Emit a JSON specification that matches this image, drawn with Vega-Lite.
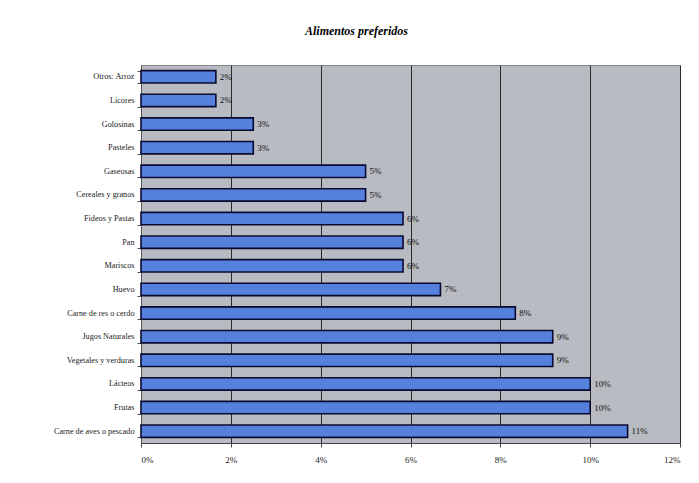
{
  "$schema": "https://vega.github.io/schema/vega-lite/v6.json",
  "autosize": "none",
  "width": 539,
  "height": 378,
  "padding": {"left": 141, "top": 65, "right": 19, "bottom": 40},
  "background": "white",
  "title": {
    "text": "Alimentos preferidos",
    "font": "Liberation Serif",
    "fontSize": 12,
    "fontStyle": "italic",
    "fontWeight": "bold",
    "color": "#000000",
    "anchor": "middle",
    "frame": "group",
    "dx": -54,
    "offset": 22
  },
  "data": {
    "values": [
      {"alimento": "Otros: Arroz", "valor": 0.016667},
      {"alimento": "Licores", "valor": 0.016667},
      {"alimento": "Golosinas", "valor": 0.025},
      {"alimento": "Pasteles", "valor": 0.025},
      {"alimento": "Gaseosas", "valor": 0.05},
      {"alimento": "Cereales y granos", "valor": 0.05},
      {"alimento": "Fideos y Pastas", "valor": 0.058333},
      {"alimento": "Pan", "valor": 0.058333},
      {"alimento": "Mariscos", "valor": 0.058333},
      {"alimento": "Huevo", "valor": 0.066667},
      {"alimento": "Carne de res o cerdo", "valor": 0.083333},
      {"alimento": "Jugos Naturales", "valor": 0.091667},
      {"alimento": "Vegetales y verduras", "valor": 0.091667},
      {"alimento": "Lácteos", "valor": 0.1},
      {"alimento": "Frutas", "valor": 0.1},
      {"alimento": "Carne de aves o pescado", "valor": 0.108333}
    ]
  },
  "encoding": {
    "y": {
      "field": "alimento",
      "type": "nominal",
      "sort": null,
      "title": null,
      "scale": {"paddingInner": 0.48, "paddingOuter": 0.24},
      "axis": {
        "labelFont": "Liberation Serif",
        "labelFontSize": 8.2,
        "labelFontWeight": "normal",
        "labelColor": "#1a1a1a",
        "tickBand": "extent",
        "tickColor": "#555555",
        "tickSize": 4,
        "labelPadding": 3,
        "domainColor": "#555555",
        "grid": false
      }
    },
    "x": {
      "field": "valor",
      "type": "quantitative",
      "title": null,
      "scale": {"domain": [0, 0.12], "nice": false},
      "axis": {
        "format": ".0%",
        "values": [0, 0.02, 0.04, 0.06, 0.08, 0.1, 0.12],
        "labelFont": "Liberation Serif",
        "labelFontSize": 9,
        "labelFontWeight": "normal",
        "labelColor": "#1a1a1a",
        "labelPadding": 8,
        "tickColor": "#444444",
        "tickSize": 4,
        "domainColor": "#444444",
        "grid": true,
        "gridColor": "#2a2a2a",
        "gridWidth": 1,
        "gridOpacity": 1
      }
    }
  },
  "layer": [
    {
      "mark": {"type": "bar", "color": "#5580dc", "stroke": "#0a0a30", "strokeWidth": 1.6}
    },
    {
      "mark": {"type": "text", "align": "left", "dx": 4, "font": "Liberation Serif", "fontSize": 9, "fontWeight": "normal", "color": "#111111"},
      "encoding": {
        "text": {"field": "valor", "type": "quantitative", "format": ".0%"}
      }
    }
  ],
  "config": {
    "view": {"fill": "#b8bbc2", "stroke": "#888888", "strokeWidth": 1}
  }
}
